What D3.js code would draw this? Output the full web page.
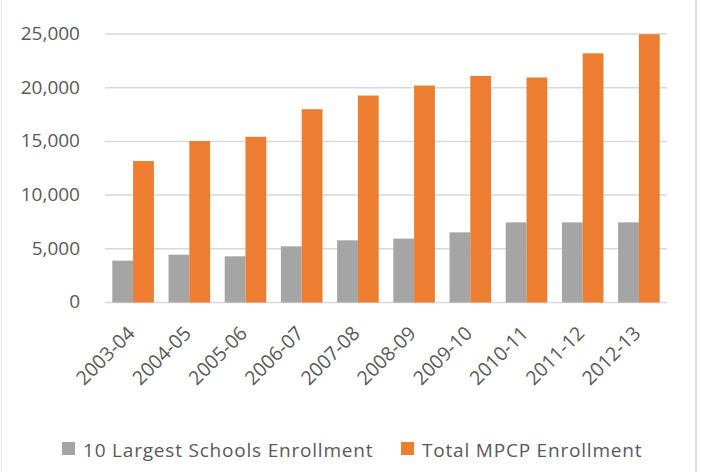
<!DOCTYPE html>
<html>
<head>
<meta charset="utf-8">
<script src="https://cdn.jsdelivr.net/npm/d3@7"></script>
<style>
  body { margin: 0; background: #fff; }
  svg text { font-family: "Open Sans", sans-serif; fill: #595959; }
</style>
</head>
<body>
<svg id="chart" width="701" height="472"></svg>
<script>
// school years on the x axis
var years = ["2003-04", "2004-05", "2005-06", "2006-07", "2007-08",
             "2008-09", "2009-10", "2010-11", "2011-12", "2012-13"];
var largest = [3900, 4450, 4300, 5230, 5790, 5950, 6530, 7460, 7460, 7460];
var total = [13170, 15030, 15430, 18000, 19270, 20200, 21100, 20950, 23200, 24980];
var yTicks = [0, 5000, 10000, 15000, 20000, 25000];
var seriesNames = ["10 Largest Schools Enrollment", "Total MPCP Enrollment"];
var colors = ["#A5A5A5", "#ED7D31"];

var svg = d3.select("#chart");
var margin = {top: 34, right: 34, bottom: 169.5, left: 105},
    width = 701 - margin.left - margin.right,
    height = 472 - margin.top - margin.bottom;

// outer chart frame
svg.append("line").attr("x1", 1.5).attr("x2", 1.5).attr("y1", 0).attr("y2", 472)
  .attr("stroke", "#e6e6e6").attr("stroke-width", 1);
svg.append("line").attr("x1", 696).attr("x2", 696).attr("y1", 0).attr("y2", 472)
  .attr("stroke", "#e0e0e0").attr("stroke-width", 2);

var data = years.map(function(y, i) {
  return {year: y, values: [largest[i], total[i]]};
});

var x0 = d3.scaleBand()
  .domain(years)
  .range([margin.left, margin.left + width])
  .paddingInner(0.26)
  .paddingOuter(0.13);

var x1 = d3.scaleBand()
  .domain([0, 1])
  .range([0, x0.bandwidth()]);

var y = d3.scaleLinear()
  .domain([0, 25000])
  .range([margin.top + height, margin.top]);

// gridlines
svg.append("g")
  .selectAll("line")
  .data(yTicks)
  .enter()
  .append("line")
  .attr("x1", margin.left)
  .attr("x2", margin.left + width)
  .attr("y1", d => y(d))
  .attr("y2", d => y(d))
  .attr("stroke", "#d9d9d9")
  .attr("stroke-width", 1.5);

// y axis labels
svg.append("g")
  .attr("transform", `translate(${margin.left - 25},0)`)
  .call(d3.axisLeft(y).tickValues(yTicks).tickSize(0).tickFormat(d3.format(",")))
  .call(g => g.select(".domain").remove())
  .selectAll("text")
  .attr("x", 0)
  .attr("dy", "0.28em")
  .style("font-size", "19px")
  .attr("fill", "#595959");

// bars
svg.append("g")
  .selectAll("g")
  .data(data)
  .enter()
  .append("g")
  .attr("transform", d => `translate(${x0(d.year)},0)`)
  .selectAll("rect")
  .data(d => d.values)
  .enter()
  .append("rect")
  .attr("x", (d, i) => x1(i))
  .attr("y", d => y(d))
  .attr("width", x1.bandwidth())
  .attr("height", d => y(0) - y(d))
  .attr("fill", (d, i) => colors[i]);

// x axis labels, rotated
svg.append("g")
  .selectAll("text")
  .data(years)
  .enter()
  .append("text")
  .attr("transform", d => `translate(${x0(d) + x0.bandwidth() / 2 + 3},${y(0) + 32}) rotate(-45)`)
  .style("text-anchor", "end")
  .style("font-size", "19.5px")
  .text(d => d);

// legend
var legendX = [62, 401];
var legend = svg.append("g")
  .selectAll("g")
  .data(seriesNames)
  .enter()
  .append("g")
  .attr("transform", (d, i) => `translate(${legendX[i]},442)`);

legend.append("rect")
  .attr("width", 13)
  .attr("height", 13)
  .attr("fill", (d, i) => colors[i]);

legend.append("text")
  .attr("x", 21)
  .attr("y", 14.5)
  .style("font-size", "19px")
  .style("letter-spacing", "0.8px")
  .text(d => d);
</script>
</body>
</html>
